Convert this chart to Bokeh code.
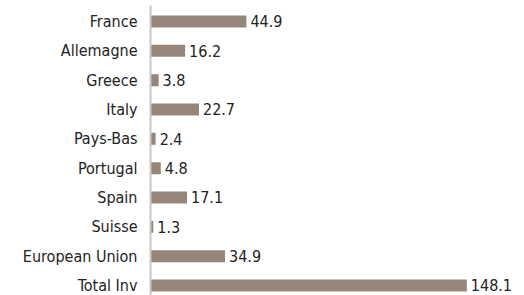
from bokeh.plotting import figure
from bokeh.models import Range1d, FixedTicker
from bokeh.core.properties import value
from bokeh.embed import file_html
from bokeh.resources import INLINE

categories = ["France", "Allemagne", "Greece", "Italy", "Pays-Bas", "Portugal",
              "Spain", "Suisse", "European Union", "Total Inv"]
values = [44.9, 16.2, 3.8, 22.7, 2.4, 4.8, 17.1, 1.3, 34.9, 148.1]
value_labels = ["44.9", "16.2", "3.8", "22.7", "2.4", "4.8", "17.1", "1.3", "34.9", "148.1"]

FONT = "'DejaVu Sans Condensed', Roboto, sans-serif"
positions = list(range(len(categories)))

p = figure(width=524, height=295, output_backend="svg", toolbar_location=None,
           x_range=Range1d(0, 175.1), y_range=Range1d(9.341, -0.545),
           min_border_left=150, min_border_right=0, min_border_top=5, min_border_bottom=0)

p.hbar(y=positions, left=0, right=values, height=0.41, color="#958679", line_color=None)
p.text(x=values, y=positions, text=value_labels, x_offset=4, text_baseline="middle",
       text_align="left", text_font=value(FONT), text_font_size="16px", text_color="#222222")

p.xaxis.visible = False
p.xgrid.visible = False
p.ygrid.visible = False
p.outline_line_color = None

ax = p.yaxis[0]
ax.ticker = FixedTicker(ticks=positions)
ax.major_label_overrides = {i: c for i, c in zip(positions, categories)}
ax.major_tick_line_color = None
ax.minor_tick_line_color = None
ax.major_tick_out = 0
ax.major_tick_in = 0
ax.major_label_standoff = 13
ax.axis_line_color = "#c8c8c8"
ax.axis_line_width = 2
ax.major_label_text_font = FONT
ax.major_label_text_font_size = "16px"
ax.major_label_text_color = "#222222"

open("out.html", "w").write(file_html(p, INLINE))
